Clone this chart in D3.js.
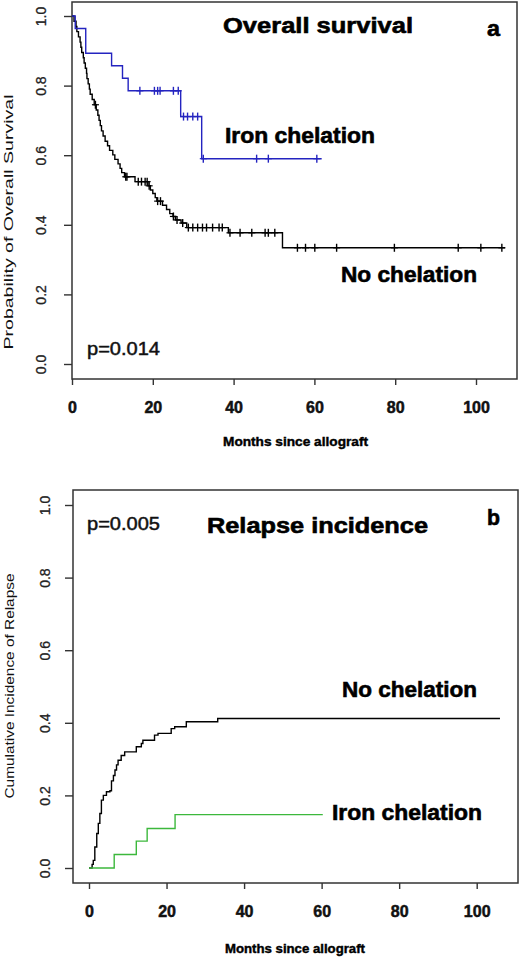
<!DOCTYPE html>
<html>
<head>
  <meta charset="utf-8">
  <title>Overall survival and relapse incidence</title>
  <script src="https://d3js.org/d3.v7.min.js"></script>
  <style>
    body { margin: 0; background: #fff; }
    svg { display: block; font-family: "Liberation Sans", Arial, sans-serif; }
    .frame { fill: none; stroke: #333; stroke-width: 1.5; }
    .axis path, .axis line { stroke: #333; stroke-width: 1.4; }
    .xaxis text { font-size: 16px; font-weight: bold; fill: #111; stroke: #111; stroke-width: 0.5; }
    .yaxis text { font-size: 14px; fill: #222; stroke: #222; stroke-width: 0.3; }
    .curve { fill: none; stroke-width: 1.4; }
    .big { font-weight: bold; font-size: 22px; fill: #000; stroke: #000; stroke-width: 0.6; }
    .pval { font-size: 19px; fill: #111; stroke: #111; stroke-width: 0.5; }
    .axtitle { font-size: 12px; fill: #111; }
  </style>
</head>
<body>
  <svg id="chart" width="520" height="959"></svg>

  <script>
    // Panel a: overall survival (Kaplan-Meier), drops as [time, survival]
    const ironOsTimes = [0.8, 3.4, 9.8, 12.5, 13.9, 26.9, 32.1];
    const ironOsSurv = [0.964, 0.893, 0.857, 0.821, 0.785, 0.711, 0.59];
    const ironOsCensor = [16.8, 20.4, 21.2, 21.8, 25.1, 26.3, 27.6, 28.6, 29.9, 31.1, 32.5, 45.7, 48.6, 60.6];
    const ironOsEnd = 61.8;

    const noneOsTimes = [0.5, 1.0, 1.2, 1.6, 2.0, 2.2, 2.4, 2.8, 3.0, 3.3, 3.6, 3.7, 4.0, 4.3, 4.5, 5.0, 5.5, 6.0,
      6.4, 6.7, 7.0, 7.3, 7.7, 8.2, 8.8, 9.3, 10.1, 10.6, 11.4, 11.9, 12.3, 13.0, 15.6, 18.8, 19.4, 20.0, 20.6,
      21.0, 22.4, 23.4, 24.2, 25.0, 25.6, 27.0, 28.4, 38.7, 52.1];
    const noneOsSurv = [0.985, 0.97, 0.955, 0.94, 0.925, 0.91, 0.895, 0.88, 0.865, 0.85, 0.835, 0.82, 0.805, 0.79,
      0.775, 0.76, 0.745, 0.73, 0.715, 0.70, 0.685, 0.67, 0.655, 0.64, 0.627, 0.614, 0.601, 0.588, 0.575, 0.562,
      0.55, 0.538, 0.524, 0.512, 0.50, 0.49, 0.478, 0.468, 0.456, 0.444, 0.432, 0.424, 0.414, 0.405, 0.392,
      0.377, 0.334];
    const noneOsCensor = [5.8, 13.3, 13.6, 16.4, 17.2, 18.1, 18.6, 19.1, 21.2, 21.9, 25.1, 26.0, 27.4, 28.8, 29.9,
      31.1, 32.3, 33.3, 34.8, 36.4, 37.2, 39.1, 41.6, 44.5, 47.8, 48.6, 50.2, 55.8, 57.8, 60.1, 65.5, 79.8,
      95.6, 101.2, 106.4];
    const noneOsEnd = 107.2;

    // Panel b: cumulative incidence of relapse, rises as [time, incidence]
    const noneRelTimes = [0.8, 1.1, 1.5, 2.0, 2.4, 2.8, 3.2, 3.7, 4.5, 5.4, 5.8, 6.3, 6.7, 7.1, 7.5, 8.3, 9.2,
      12.2, 13.5, 13.9, 16.9, 17.8, 21.2, 22.1, 25.1, 33.2];
    const noneRelInc = [0.01, 0.021, 0.058, 0.095, 0.123, 0.15, 0.187, 0.2, 0.21, 0.213, 0.24, 0.255, 0.27, 0.284,
      0.297, 0.31, 0.32, 0.334, 0.343, 0.352, 0.366, 0.371, 0.384, 0.389, 0.403, 0.412];
    const noneRelEnd = 106.0;

    const ironRelTimes = [6.5, 12.2, 15.0, 22.2];
    const ironRelInc = [0.037, 0.074, 0.109, 0.147];
    const ironRelEnd = 60.3;

    const xTicks = [0, 20, 40, 60, 80, 100];
    const yTicks = [0, 0.2, 0.4, 0.6, 0.8, 1.0];

    const svg = d3.select("#chart");

    function stepPoints(times, vals, start, end) {
      const pts = [[0, start]];
      times.forEach((t, i) => pts.push([t, vals[i]]));
      pts.push([end, vals[vals.length - 1]]);
      return pts;
    }

    // value of a step curve at time t
    function valueAt(times, vals, start, t) {
      let v = start;
      times.forEach((tt, i) => { if (tt <= t) v = vals[i]; });
      return v;
    }

    function panel(cfg) {
      const x = d3.scaleLinear().domain([0, 100]).range(cfg.xRange);
      const y = d3.scaleLinear().domain([0, 1]).range(cfg.yRange);
      const g = svg.append("g");

      g.append("rect").attr("class", "frame")
        .attr("x", cfg.box[0]).attr("y", cfg.box[1])
        .attr("width", cfg.box[2] - cfg.box[0]).attr("height", cfg.box[3] - cfg.box[1]);

      const xa = g.append("g").attr("class", "axis xaxis")
        .attr("transform", `translate(0,${cfg.box[3]})`)
        .call(d3.axisBottom(x).tickValues(xTicks).tickSize(6).tickPadding(17).tickFormat(d3.format("d")));
      xa.select(".domain").remove();

      const ya = g.append("g").attr("class", "axis yaxis")
        .attr("transform", `translate(${cfg.box[0]},0)`)
        .call(d3.axisLeft(y).tickValues(yTicks).tickSize(8).tickFormat(d3.format(".1f")));
      ya.select(".domain").remove();
      ya.selectAll("text")
        .attr("x", null).attr("dy", null)
        .attr("text-anchor", "middle")
        .attr("transform", `translate(${cfg.yLabelX - cfg.box[0]},0) rotate(-90) translate(0,5)`);

      const line = d3.line().x(d => x(d[0])).y(d => y(d[1])).curve(d3.curveStepAfter);
      cfg.curves.forEach(c => {
        g.append("path").attr("class", "curve").attr("stroke", c.color)
          .attr("d", line(stepPoints(c.times, c.vals, c.start, c.end)));
        if (c.censor) {
          const marks = g.selectAll(null).data(c.censor).enter().append("g")
            .attr("transform", d => `translate(${x(d)},${y(valueAt(c.times, c.vals, c.start, d))})`);
          marks.append("line").attr("stroke", c.color).attr("stroke-width", 1.4)
            .attr("y1", -4).attr("y2", 4);
          marks.append("line").attr("stroke", c.color).attr("stroke-width", 1.2)
            .attr("x1", -3.5).attr("x2", 3.5);
        }
      });

      cfg.labels.forEach(l => {
        const t = g.append("text").attr("class", l.cls)
          .attr("x", l.x).attr("y", l.y).text(l.text);
        if (l.w) t.attr("textLength", l.w).attr("lengthAdjust", "spacingAndGlyphs");
      });

      g.append("text").attr("class", "big")
        .style("font-size", "12px").style("stroke-width", "0.4")
        .attr("x", cfg.xTitle[0]).attr("y", cfg.xTitle[1])
        .attr("textLength", cfg.xTitle[2]).attr("lengthAdjust", "spacingAndGlyphs")
        .text("Months since allograft");

      g.append("text").attr("class", "axtitle")
        .style("font-size", "13px")
        .attr("text-anchor", "middle")
        .attr("transform", `translate(${cfg.yTitle[0]},${cfg.yTitle[1]}) rotate(-90)`)
        .attr("textLength", cfg.yTitle[2]).attr("lengthAdjust", "spacingAndGlyphs")
        .text(cfg.yTitleText);
    }

    panel({
      box: [72, 2, 517, 379],
      xRange: [72, 476],
      yRange: [364, 16],
      yLabelX: 41,
      curves: [
        { color: "#000", times: noneOsTimes, vals: noneOsSurv, start: 1, end: noneOsEnd, censor: noneOsCensor },
        { color: "#2424c0", times: ironOsTimes, vals: ironOsSurv, start: 1, end: ironOsEnd, censor: ironOsCensor }
      ],
      labels: [
        { cls: "big", x: 223, y: 33, text: "Overall survival", w: 190 },
        { cls: "big", x: 487, y: 36, text: "a", w: 13 },
        { cls: "big", x: 225, y: 143, text: "Iron chelation", w: 150 },
        { cls: "big", x: 341, y: 282, text: "No chelation", w: 136 },
        { cls: "pval", x: 87, y: 355, text: "p=0.014", w: 73 }
      ],
      xTitle: [223, 446, 145],
      yTitle: [13, 222, 255],
      yTitleText: "Probability of Overall Survival"
    });

    panel({
      box: [73, 490, 518, 883],
      xRange: [89, 476.7],
      yRange: [868, 505],
      yLabelX: 45,
      curves: [
        { color: "#000", times: noneRelTimes, vals: noneRelInc, start: 0, end: noneRelEnd },
        { color: "#3cb83c", times: ironRelTimes, vals: ironRelInc, start: 0, end: ironRelEnd }
      ],
      labels: [
        { cls: "big", x: 207, y: 533, text: "Relapse incidence", w: 221 },
        { cls: "big", x: 487, y: 525, text: "b", w: 13 },
        { cls: "big", x: 342, y: 697, text: "No chelation", w: 135 },
        { cls: "big", x: 332, y: 820, text: "Iron chelation", w: 150 },
        { cls: "pval", x: 87, y: 530, text: "p=0.005", w: 73 }
      ],
      xTitle: [225, 953, 140],
      yTitle: [14, 686, 225],
      yTitleText: "Cumulative Incidence of Relapse"
    });
  </script>
</body>
</html>
